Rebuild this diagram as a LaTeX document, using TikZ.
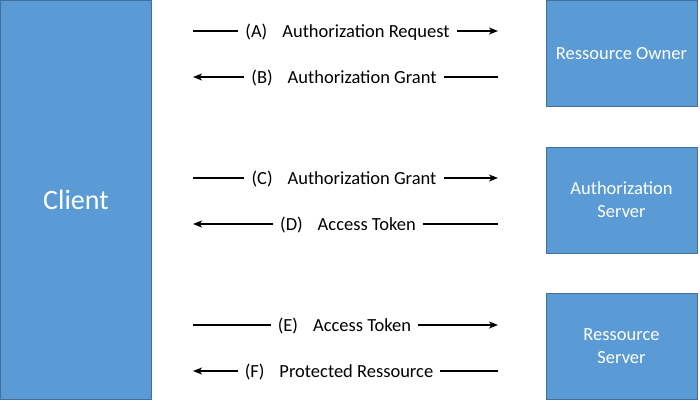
\documentclass[tikz,border=0pt]{standalone}
\usepackage{fontspec}
\setmainfont{Carlito}
\usetikzlibrary{arrows.meta}
\definecolor{boxfill}{HTML}{5B9BD5}
\definecolor{boxline}{HTML}{41719C}
\begin{document}
\begin{tikzpicture}[x=1pt,y=-1pt,
  party/.style={draw=boxline,line width=1pt,fill=boxfill,text=white,align=center,inner sep=0pt},
  msg/.style={inner xsep=7pt,inner ysep=0pt,text height=12pt,text depth=0pt,font=\fontsize{18.5}{23}\selectfont},
  flow/.style={line width=1.3pt},
  tip/.style={flow,-{Stealth[length=9pt,width=7pt,inset=2.5pt]}}]
\useasboundingbox (0,0) rectangle (700,400);
\node[party,minimum width=151pt,minimum height=399pt,font=\fontsize{28}{34}\selectfont] (client) at (76,200) {Client};
\node[party,minimum width=151pt,minimum height=106pt,font=\fontsize{18.5}{23}\selectfont] (owner) at (621.5,53.5) {Ressource Owner};
\node[party,minimum width=151pt,minimum height=106pt,font=\fontsize{18.5}{23}\selectfont] (auth) at (621.5,200) {Authorization\\Server};
\node[party,minimum width=151pt,minimum height=106pt,font=\fontsize{18.5}{23}\selectfont] (res) at (621.5,346) {Ressource\\Server};
% coordinates
\foreach \n/\y in {A/31,B/77,C/178,D/224,E/325,F/371}{
  \coordinate (s\n) at (193,\y);
  \coordinate (e\n) at (498,\y);
}
\node[msg] (lA) at (347.5,31) {(A)\hspace{15pt}Authorization Request};
\node[msg] (lB) at (344,77) {(B)\hspace{15pt}Authorization Grant};
\node[msg] (lC) at (344,178) {(C)\hspace{15pt}Authorization Grant};
\node[msg] (lD) at (348,224) {(D)\hspace{15pt}Access Token};
\node[msg] (lE) at (344.5,325) {(E)\hspace{15pt}Access Token};
\node[msg] (lF) at (339,371) {(F)\hspace{15pt}Protected Ressource};
\draw[flow] (sA) -- (lA.west);
\draw[tip] (lA.east) -- (eA);
\draw[tip] (lB.west) -- (sB);
\draw[flow] (lB.east) -- (eB);
\draw[flow] (sC) -- (lC.west);
\draw[tip] (lC.east) -- (eC);
\draw[tip] (lD.west) -- (sD);
\draw[flow] (lD.east) -- (eD);
\draw[flow] (sE) -- (lE.west);
\draw[tip] (lE.east) -- (eE);
\draw[tip] (lF.west) -- (sF);
\draw[flow] (lF.east) -- (eF);
\end{tikzpicture}
\end{document}
